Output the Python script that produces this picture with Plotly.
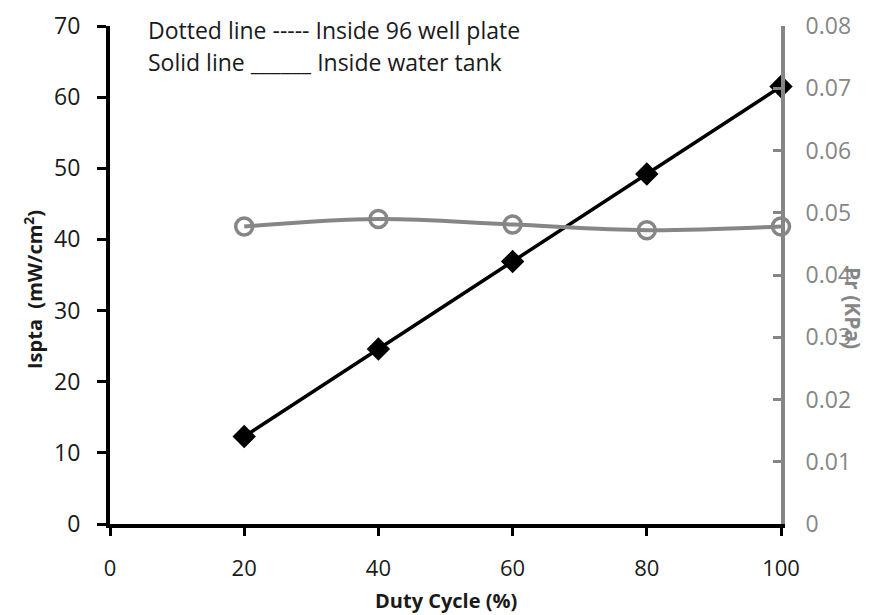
import plotly.graph_objects as go

duty_cycle = [20, 40, 60, 80, 100]
ispta_water_tank = [12.3, 24.6, 36.9, 49.2, 61.5]
pr_water_tank = [0.0478, 0.0490, 0.0481, 0.0472, 0.0478]

FONT = "Open Sans"
GRAY = "#868686"
TXT = "#1a1a1a"

W, H = 869, 615
L, R, T, B = 102, 96, 18, 99

fig = go.Figure()
fig.add_trace(go.Scatter(
    x=duty_cycle, y=pr_water_tank, yaxis="y2", mode="lines+markers",
    line=dict(color=GRAY, width=4, shape="spline"),
    marker=dict(symbol="circle-open", size=17, color=GRAY, line=dict(width=3.5, color=GRAY)),
    showlegend=False, cliponaxis=False))
fig.add_trace(go.Scatter(
    x=duty_cycle, y=ispta_water_tank, mode="lines+markers",
    line=dict(color="black", width=3.5),
    marker=dict(symbol="diamond", size=18, color="black"),
    showlegend=False, cliponaxis=False))

fig.update_layout(
    width=W, height=H,
    margin=dict(l=L, r=R, t=T, b=B, autoexpand=False),
    paper_bgcolor="white", plot_bgcolor="white",
    font=dict(family=FONT, size=22, color=TXT),
    xaxis=dict(range=[0, 100], tickvals=[0, 20, 40, 60, 80, 100], showgrid=False, zeroline=False,
               automargin=False, ticklabeloverflow="allow",
               showline=True, linecolor="black", linewidth=4, ticks="outside", ticklen=8,
               tickwidth=3, tickcolor="black", ticklabelstandoff=14,
               tickfont=dict(size=22, color=TXT)),
    yaxis=dict(range=[0, 70], tickvals=[0, 10, 20, 30, 40, 50, 60, 70], showgrid=False, zeroline=False,
               automargin=False, ticklabeloverflow="allow",
               showline=True, linecolor="black", linewidth=4, ticks="outside", ticklen=9,
               tickwidth=3, tickcolor="black", ticklabelstandoff=12,
               tickfont=dict(size=23, color=TXT)),
    yaxis2=dict(range=[0, 0.08], tickvals=[0, 0.01, 0.02, 0.03, 0.04, 0.05, 0.06, 0.07, 0.08],
                ticktext=["0", "0.01", "0.02", "0.03", "0.04", "0.05", "0.06", "0.07", "0.08"],
                overlaying="y", side="right", showgrid=False, zeroline=False, automargin=False,
                ticklabeloverflow="allow",
                showline=True, linecolor=GRAY, linewidth=4, ticks="inside", ticklen=8,
                tickwidth=3, tickcolor=GRAY, ticklabelstandoff=16,
                tickfont=dict(size=23, color=GRAY)),
)

pw = W - L - R
ph = H - T - B


def px(x, y):
    return (x - L) / pw, (H - B - y) / ph


def ann(text, x, y, **kw):
    ax, ay = px(x, y)
    d = dict(text=text, x=ax, y=ay, xref="paper", yref="paper", showarrow=False)
    d.update(kw)
    fig.add_annotation(**d)


ann("Dotted line ----- Inside 96 well plate", 138, 22, xanchor="left", yanchor="middle",
    font=dict(size=23, color=TXT))
ann("Solid line ______ Inside water tank", 138, 54, xanchor="left", yanchor="middle",
    font=dict(size=23, color=TXT))
ann("<b>Duty Cycle (%)</b>", 438, 592, xanchor="center", yanchor="middle",
    font=dict(size=20, color=TXT))
ann("<b>Ispta  (mW/cm<sup>2</sup>)</b>", 26, 282, xanchor="center", yanchor="middle", textangle=-90,
    font=dict(size=20, color=TXT))
ann("<b>Pr (KPa)</b>", 845, 300, xanchor="center", yanchor="middle", textangle=90,
    font=dict(size=21, color=GRAY))

fig.write_html("out.html")
